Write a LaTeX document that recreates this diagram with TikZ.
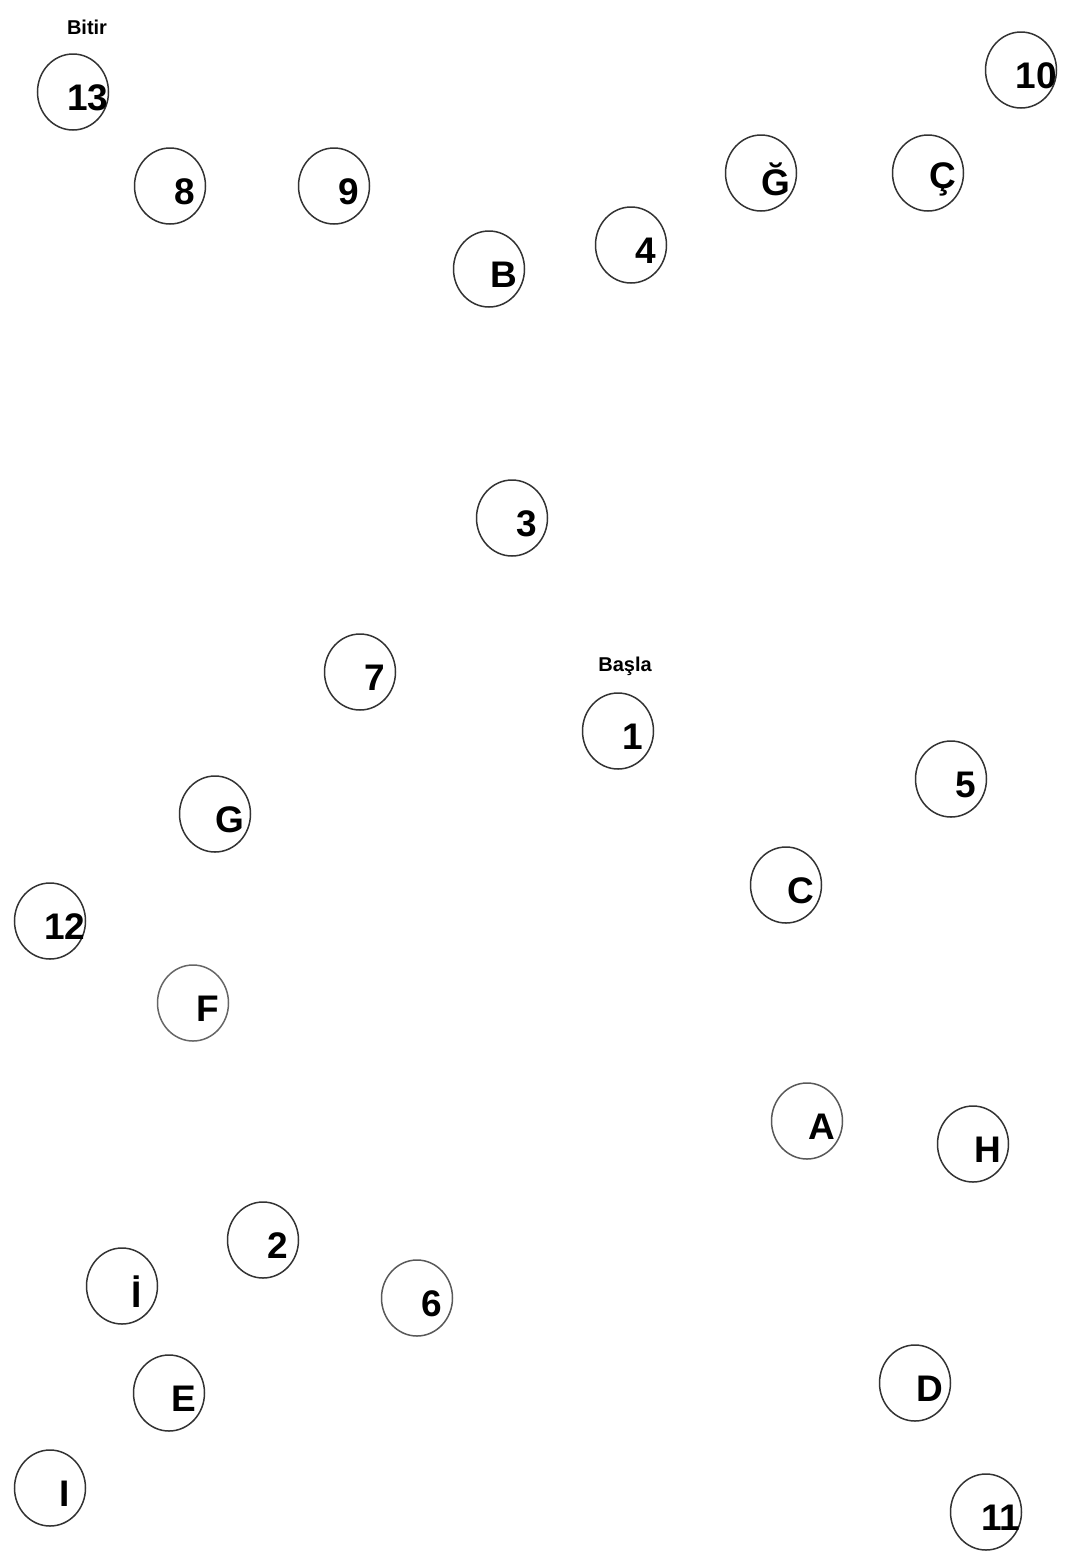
\documentclass[tikz,border=0pt]{standalone}
\usepackage{fontspec}
\setmainfont{Liberation Sans}
\usetikzlibrary{shapes.geometric}

\begin{document}
\begin{tikzpicture}[x=1pt, y=-1pt,
  spot/.style={ellipse, draw=black!80, line width=1.5pt, minimum width=71pt, minimum height=76pt, inner sep=0pt},
  spottxt/.style={xshift=15pt, yshift=-6pt, font=\fontsize{37}{40}\selectfont\bfseries, inner sep=0pt},
  tagtxt/.style={font=\fontsize{20}{22}\selectfont\bfseries, inner sep=0pt}]

\definecolor{paperColor}{RGB}{255,255,255}
\useasboundingbox[fill=paperColor] (0,0) rectangle (1065,1551);

% End and start tags
\node[tagtxt] (bitir) at (87,27) {Bitir};
\node[tagtxt] (basla) at (625,666) {Başla};

% Top row
\node[spot, label={[spottxt]center:13}] (n13) at (73,92) {};
\node[spot, label={[spottxt]center:8}] (n8) at (170,186) {};
\node[spot, label={[spottxt]center:9}] (n9) at (334,186) {};
\node[spot, label={[spottxt]center:B}] (nB) at (489,269) {};
\node[spot, label={[spottxt]center:4}] (n4) at (631,245) {};
\node[spot, label={[spottxt]center:Ğ}] (nGb) at (761,173) {};
\node[spot, label={[spottxt]center:Ç}] (nCc) at (928,173) {};
\node[spot, label={[spottxt]center:10}] (n10) at (1021,70) {};

% Middle
\node[spot, label={[spottxt]center:3}] (n3) at (512,518) {};
\node[spot, label={[spottxt]center:7}] (n7) at (360,672) {};
\node[spot, label={[spottxt]center:1}] (n1) at (618,731) {};
\node[spot, label={[spottxt]center:5}] (n5) at (951,779) {};
\node[spot, label={[spottxt]center:G}] (nG) at (215,814) {};
\node[spot, label={[spottxt]center:C}] (nC) at (786,885) {};
\node[spot, label={[spottxt]center:12}] (n12) at (50,921) {};
\node[spot, draw=black!60, label={[spottxt]center:F}] (nF) at (193,1003) {};

% Lower right
\node[spot, draw=black!65, label={[spottxt]center:A}] (nA) at (807,1121) {};
\node[spot, label={[spottxt]center:H}] (nH) at (973,1144) {};
\node[spot, label={[spottxt]center:D}] (nD) at (915,1383) {};
\node[spot, label={[spottxt]center:11}] (n11) at (986,1512) {};

% Lower left
\node[spot, label={[spottxt]center:2}] (n2) at (263,1240) {};
\node[spot, draw=black!65, label={[spottxt]center:6}] (n6) at (417,1298) {};
\node[spot, label={[spottxt]center:İ}] (nIi) at (122,1286) {};
\node[spot, label={[spottxt]center:E}] (nE) at (169,1393) {};
\node[spot, label={[spottxt]center:I}] (nI) at (50,1488) {};

\end{tikzpicture}
\end{document}
